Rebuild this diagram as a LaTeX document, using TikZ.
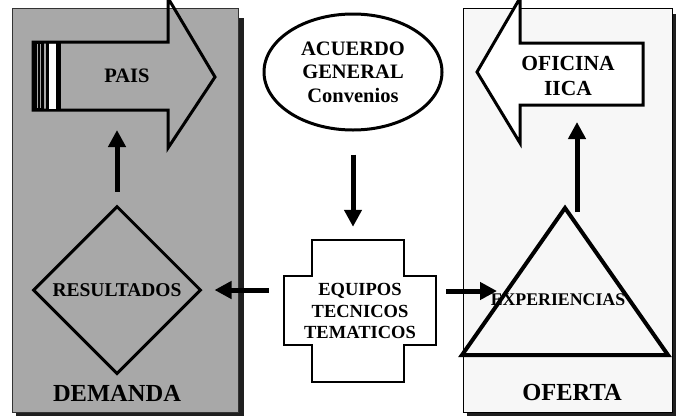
\documentclass[tikz,border=0pt]{standalone}
\usepackage{fontspec}
\setmainfont{Liberation Serif}
\usetikzlibrary{arrows.meta,shapes.geometric}
\begin{document}
\begin{tikzpicture}[x=1pt,y=-1pt,
  txt/.style 2 args={font=\bfseries\fontsize{#1}{#2}\selectfont, align=center, inner sep=0pt, text=black},
  bigarrow/.style={line width=5pt, -{Triangle[length=17pt,width=17pt]}},
  outl/.style={line width=3pt, line join=miter},
  panelL/.style={fill=black!34, draw=black!80, line width=0.8pt},
  panelR/.style={fill=black!3, draw=black, line width=0.8pt},
  shadow/.style={fill=black!88},
]
\useasboundingbox (0,0) rectangle (676,418);
% ---------- left panel (DEMANDA)
\fill[shadow] (16,18) rectangle (244,416);
\path[panelL] (12,8) rectangle (238,412);
% PAIS arrow
\draw[outl] (33,42) -- (168,42) -- (168,-2) -- (215,77) -- (168,148) -- (168,110) -- (33,110) -- cycle;
\fill[black] (33,42) rectangle (44,110);
\draw[black!35, line width=0.6pt] (36.8,44) -- (36.8,108) (40.5,44) -- (40.5,108);
\fill[black] (45.5,42) rectangle (48.5,110);
\fill[white] (48.5,43.5) rectangle (56,108.5);
\fill[black] (56,42) rectangle (61,110);
\node[txt={20.5}{24}] (pais) at (127,76) {PAIS};
\coordinate (paisbot) at (117,110);
% diamond
\node[diamond, draw, line width=3pt, minimum width=168pt, minimum height=168pt, inner sep=0pt, txt={19.5}{22}] (res) at (117,290) {RESULTADOS};
\node[txt={24.5}{27}] (dem) at (117,393) {DEMANDA};
% ---------- right panel (OFERTA)
\fill[shadow] (467,14) rectangle (675.5,416);
\path[panelR] (463,8) rectangle (672,412);
% OFICINA arrow
\draw[outl, fill=white] (643,43) -- (520,43) -- (520,-2) -- (477,72) -- (520,143) -- (520,105) -- (643,105) -- cycle;
\node[txt={21.5}{25}] (ofi) at (568,75.5) {OFICINA\\IICA};
\coordinate (ofibot) at (577,105);
% triangle
\coordinate (apex) at (565,208);
\coordinate (bl) at (462,355);
\coordinate (br) at (668,355);
\draw[line width=4pt, line join=miter] (apex) -- (br) -- (bl) -- cycle;
\coordinate (tritop) at (577,212);
\coordinate (trileft) at (497,291);
\node[txt={17.8}{20}] (exp) at (558,300) {EXPERIENCIAS};
\node[txt={24.5}{27}] (ofe) at (572,392) {OFERTA};
% ---------- centre
\node[ellipse, draw, line width=3pt, fill=white, minimum width=178pt, minimum height=116pt, inner sep=0pt, txt={20.5}{23.5}] (acu) at (353,72) {ACUERDO\\GENERAL\\Convenios};
\draw[line width=1.3pt, fill=white] (312,240) -- (404,240) -- (404,276) -- (436,276) -- (436,345) -- (404,345) -- (404,382) -- (312,382) -- (312,345) -- (284,345) -- (284,276) -- (312,276) -- cycle;
\node[txt={18.5}{21.5}, minimum width=152pt, minimum height=142pt] (eq) at (360,311) {EQUIPOS\\TECNICOS\\TEMATICOS};
% ---------- connectors
\draw[bigarrow, shorten <=23pt, shorten >=13pt] (acu.south) -- (acu.south |- eq.north);
\draw[bigarrow, shorten <=15pt, shorten >=12pt] (eq.west |- res.east) -- (res.east);
\draw[bigarrow, shorten <=10pt] (eq.east |- trileft) -- (trileft);
\draw[bigarrow, shorten <=13pt, shorten >=20pt] (res.north) -- (paisbot);
\draw[bigarrow, shorten >=17pt] (tritop) -- (ofibot);
\end{tikzpicture}
\end{document}
